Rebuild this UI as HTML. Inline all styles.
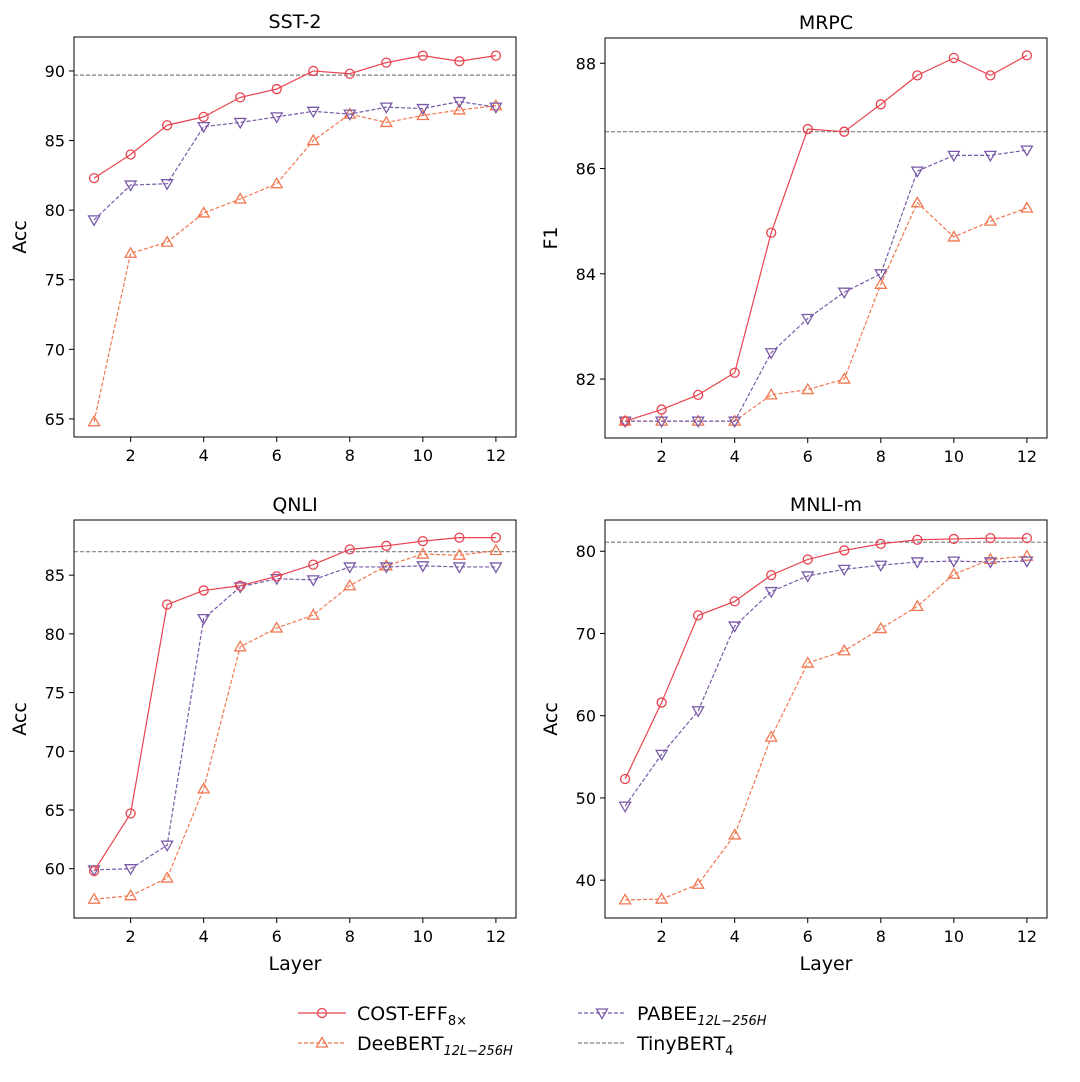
<!DOCTYPE html>
<html><head><meta charset="utf-8"><style>
body{margin:0;background:#fff;}
svg text{font-family:"DejaVu Sans","Liberation Sans",sans-serif;fill:#000;}
</style></head><body>
<svg id="c" width="1080" height="1077" xmlns="http://www.w3.org/2000/svg"></svg>
<script>
const layers=[1,2,3,4,5,6,7,8,9,10,11,12];
const xTicks=[2,4,6,8,10,12];
const sstCost=[82.3,84.0,86.1,86.7,88.1,88.7,90.0,89.8,90.6,91.1,90.7,91.1];
const sstDee=[64.8,76.9,77.7,79.8,80.8,81.9,85.0,86.9,86.3,86.8,87.2,87.5];
const sstPabee=[79.3,81.8,81.9,86.0,86.3,86.7,87.1,86.9,87.4,87.3,87.8,87.4];
const sstTiny=89.7;
const mrpcCost=[81.2,81.42,81.7,82.12,84.78,86.75,86.7,87.22,87.77,88.1,87.77,88.15];
const mrpcDee=[81.2,81.2,81.2,81.2,81.7,81.8,82.0,83.8,85.35,84.7,85.0,85.25];
const mrpcPabee=[81.2,81.2,81.2,81.2,82.5,83.15,83.65,84.0,85.95,86.25,86.25,86.35];
const mrpcTiny=86.7;
const qnliCost=[59.8,64.7,82.5,83.7,84.1,84.9,85.9,87.2,87.5,87.9,88.2,88.2];
const qnliDee=[57.4,57.7,59.2,66.8,78.9,80.5,81.6,84.1,85.8,86.8,86.7,87.1];
const qnliPabee=[59.9,60.0,62.0,81.3,84.0,84.7,84.6,85.7,85.7,85.8,85.7,85.7];
const qnliTiny=87.0;
const mnliCost=[52.3,61.6,72.2,73.9,77.1,79.0,80.1,80.9,81.4,81.5,81.6,81.6];
const mnliDee=[37.6,37.7,39.5,45.5,57.4,66.4,67.9,70.6,73.3,77.2,79.0,79.4];
const mnliPabee=[49.0,55.3,60.6,70.9,75.1,77.0,77.8,78.3,78.7,78.8,78.7,78.8];
const mnliTiny=81.1;
const sstYTicks=[65,70,75,80,85,90];
const mrpcYTicks=[82,84,86,88];
const qnliYTicks=[60,65,70,75,80,85];
const mnliYTicks=[40,50,60,70,80];

const NS="http://www.w3.org/2000/svg";
const svg=document.getElementById('c');
function mk(t,a,p){const e=document.createElementNS(NS,t);for(const k in a)e.setAttribute(k,a[k]);(p||svg).appendChild(e);return e;}
const RED="#e8434f",ORG="#f07850",PUR="#7a5aa8",GRY="#7f7f7f";

function marker(g,type,x,y,col){
  let e;
  if(type==='o') e=mk('circle',{cx:x,cy:y,r:4.5,fill:'none',stroke:col,'stroke-width':1.3},g);
  else if(type==='^') e=mk('polygon',{points:`${x},${y-5.5} ${x-5.5},${y+4} ${x+5.5},${y+4}`,fill:'none',stroke:col,'stroke-width':1.3},g);
  else e=mk('polygon',{points:`${x},${y+5.5} ${x-5.5},${y-4} ${x+5.5},${y-4}`,fill:'none',stroke:col,'stroke-width':1.3},g);
  return e;
}

function panel(name,title,ylabel,L,T,W,H,ymin,ymax,yt,cost,dee,pabee,tiny,showX){
  const g=mk('g',{});
  
  
  const sx=v=>L+ (v-0.45)/(12.55-0.45)*W;
  const sy=v=>T+H-(v-ymin)/(ymax-ymin)*H;
  const t=mk('text',{x:L+W/2,y:T-9,'text-anchor':'middle','font-size':19},g);t.textContent=title;
  
  xTicks.forEach(v=>{mk('line',{x1:sx(v),x2:sx(v),y1:T+H,y2:T+H+5,stroke:'#000'},g);
    const tx=mk('text',{x:sx(v),y:T+H+24,'text-anchor':'middle','font-size':16},g);tx.textContent=v;
    });
  yt.forEach(v=>{mk('line',{x1:L-5,x2:L,y1:sy(v),y2:sy(v),stroke:'#000'},g);
    const tx=mk('text',{x:L-9,y:sy(v)+6,'text-anchor':'end','font-size':16},g);tx.textContent=v;
    });
  const yl=mk('text',{x:0,y:0,'text-anchor':'middle','font-size':19,transform:`translate(${L-48},${T+H/2}) rotate(-90)`},g);yl.textContent=ylabel;
  
  if(showX){const xl=mk('text',{x:L+W/2,y:T+H+52,'text-anchor':'middle','font-size':19},g);xl.textContent='Layer';
    }
  const tl=mk('line',{x1:L,x2:L+W,y1:sy(tiny),y2:sy(tiny),stroke:GRY,'stroke-width':1.2,'stroke-dasharray':'4,2'},g);
  
  [[dee,ORG,'^','deebert',true],[pabee,PUR,'v','pabee',true],[cost,RED,'o','cost-eff',false]].forEach(([d,c,m,n,dash])=>{
    const pl=mk('polyline',{points:d.map((v,i)=>sx(layers[i])+','+sy(v)).join(' '),fill:'none',stroke:c,'stroke-width':1.2},g);
    if(dash)pl.setAttribute('stroke-dasharray','4,2');
    
    d.forEach((v,i)=>{const e=marker(g,m,sx(layers[i]),sy(v),c);
      });
  });
  mk('rect',{x:L,y:T,width:W,height:H,fill:'none',stroke:'#000','stroke-width':1},g);
}
panel('sst2','SST-2','Acc',74,37,442,400,63.7,92.44,sstYTicks,sstCost,sstDee,sstPabee,sstTiny,false);
panel('mrpc','MRPC','F1',605,38,442,400,80.88,88.48,mrpcYTicks,mrpcCost,mrpcDee,mrpcPabee,mrpcTiny,false);
panel('qnli','QNLI','Acc',74,520,442,398,55.8,89.7,qnliYTicks,qnliCost,qnliDee,qnliPabee,qnliTiny,true);
panel('mnli','MNLI-m','Acc',605,520,442,398,35.4,83.8,mnliYTicks,mnliCost,mnliDee,mnliPabee,mnliTiny,true);

const lg=mk('g',{});


const items=[[298,1013,RED,'o',false,'COST-EFF','8×'],[298,1043,ORG,'^',true,'DeeBERT','12L−256H'],[578,1013,PUR,'v',true,'PABEE','12L−256H'],[578,1043,GRY,null,true,'TinyBERT','4']];
items.forEach(([x,y,c,m,d,lab,sub])=>{
  const l=mk('line',{x1:x,x2:x+48,y1:y,y2:y,stroke:c,'stroke-width':1.2},lg);
  if(d)l.setAttribute('stroke-dasharray','4,2');
  if(m)marker(lg,m,x+24,y,c);
  const t=mk('text',{x:x+59,y:y+7,'font-size':19},lg);
  
  
  t.textContent=lab;
  const s=mk('tspan',{dy:5,'font-size':13,'font-style':sub==='4'||sub==='8×'?'normal':'italic'},t);s.textContent=sub;
});
</script>
</body></html>
